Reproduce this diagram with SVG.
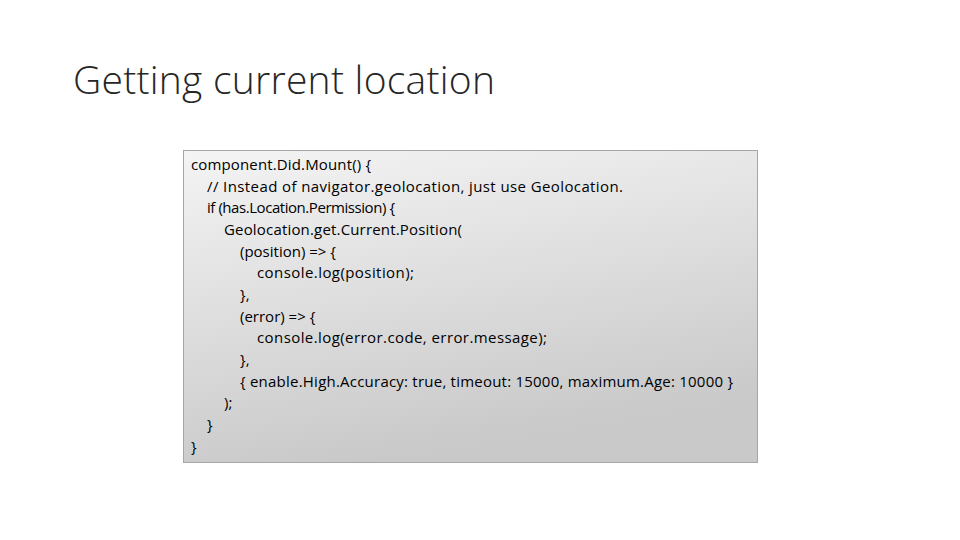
<svg xmlns="http://www.w3.org/2000/svg" width="960" height="540" viewBox="0 0 960 540">
<defs>
<linearGradient id="g" x1="0" y1="0" x2="0.3" y2="1">
<stop offset="0" stop-color="#f4f4f4"/>
<stop offset="1" stop-color="#c9c9c9"/>
</linearGradient>
<style>
.c{font-family:"Open Sans","Liberation Sans",sans-serif;font-size:15px;fill:#000}
</style>
</defs>
<rect width="960" height="540" fill="#fff"/>
<text x="73" y="94" font-family="'Open Sans','Liberation Sans',sans-serif" font-size="39" fill="#262626" font-weight="300" textLength="422">Getting current location</text>
<g id="code">
<rect x="183.5" y="150.5" width="574" height="312" fill="url(#g)" stroke="#a6a6a6"/>
<text class="c" x="191" y="170" textLength="180">component.Did.Mount() {</text>
<text class="c" x="207" y="192" textLength="416">// Instead of navigator.geolocation, just use Geolocation.</text>
<text class="c" x="207" y="213" textLength="188">if (has.Location.Permission) {</text>
<text class="c" x="224" y="235" textLength="238">Geolocation.get.Current.Position(</text>
<text class="c" x="240" y="257">(position) =&gt; {</text>
<text class="c" x="257" y="278" textLength="157">console.log(position);</text>
<text class="c" x="240" y="300">},</text>
<text class="c" x="240" y="322">(error) =&gt; {</text>
<text class="c" x="257" y="343" textLength="290">console.log(error.code, error.message);</text>
<text class="c" x="240" y="365">},</text>
<text class="c" x="240" y="387" textLength="493">{ enable.High.Accuracy: true, timeout: 15000, maximum.Age: 10000 }</text>
<text class="c" x="224" y="408">);</text>
<text class="c" x="207" y="430">}</text>
<text class="c" x="191" y="452">}</text>
</g>
</svg>
